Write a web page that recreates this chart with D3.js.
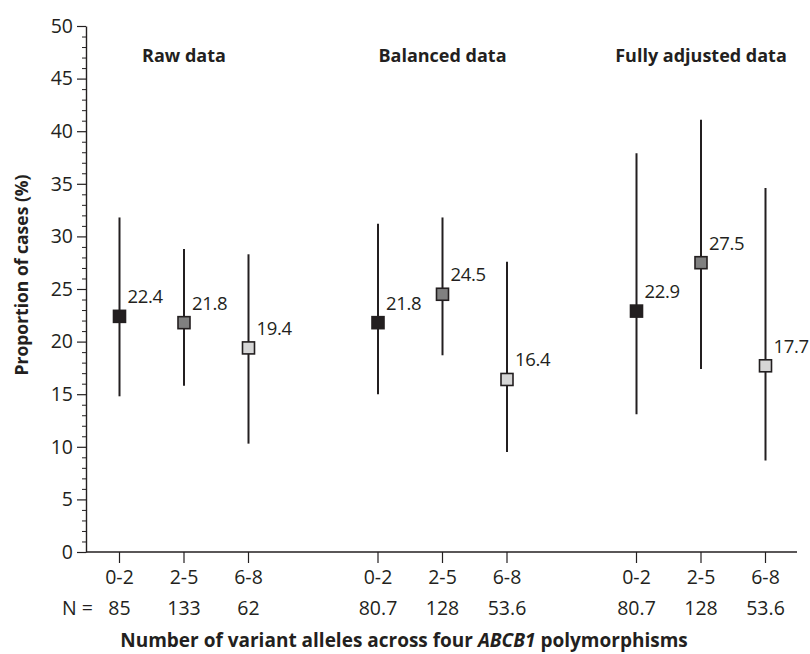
<!DOCTYPE html>
<html>
<head>
<meta charset="utf-8">
<script src="https://cdn.jsdelivr.net/npm/d3@7"></script>
<style>
  body { margin: 0; background: #fff; }
  svg text { font-family: "Open Sans", sans-serif; fill: #231f20; }
</style>
</head>
<body>
<div id="chart-area"></div>
<script>
// Data
const groups = ["Raw data", "Balanced data", "Fully adjusted data"]
const categories = ["0-2", "2-5", "6-8"]
const nValues = [["85", "133", "62"], ["80.7", "128", "53.6"], ["80.7", "128", "53.6"]]
const estimates = [[22.4, 21.8, 19.4], [21.8, 24.5, 16.4], [22.9, 27.5, 17.7]]
const lowerCI = [[14.8, 15.8, 10.3], [15.0, 18.7, 9.5], [13.1, 17.4, 8.7]]
const upperCI = [[31.8, 28.8, 28.3], [31.2, 31.8, 27.6], [37.9, 41.1, 34.6]]
const yTicks = [0, 5, 10, 15, 20, 25, 30, 35, 40, 45, 50]
const markerFill = ["#231f20", "#808080", "#d6d6d6"]

const WIDTH = 810
const HEIGHT = 654
const INK = "#231f20"
const FS = "19.5px"

const svg = d3.select("#chart-area").append("svg")
  .attr("width", WIDTH)
  .attr("height", HEIGHT)

// Scales
const y = d3.scaleLinear()
  .domain([0, 50])
  .range([552, 26])
const xGroup = d3.scalePoint()
  .domain(groups)
  .range([184, 701])
const xInner = d3.scalePoint()
  .domain(categories)
  .range([-64.5, 64.5])

const AXIS_X = 86

// Flatten for drawing
const points = []
groups.forEach((g, gi) => {
  categories.forEach((c, ci) => {
    points.push({
      group: g, cat: c, ci: ci,
      est: estimates[gi][ci], lo: lowerCI[gi][ci], hi: upperCI[gi][ci],
      n: nValues[gi][ci],
      x: xGroup(g) + xInner(c)
    })
  })
})

// Y axis minor ticks
svg.append("g")
  .attr("transform", `translate(${AXIS_X}, 0)`)
  .call(d3.axisLeft(y).tickValues(d3.range(0, 51, 1).filter(v => v % 5 !== 0))
    .tickSize(4).tickSizeOuter(0).tickFormat(""))
  .call(g => g.select(".domain").remove())
  .call(g => g.selectAll("line").attr("stroke", INK).attr("stroke-width", 1))

// Y axis major ticks
const yAxis = svg.append("g")
  .attr("transform", `translate(${AXIS_X}, 0)`)
  .call(d3.axisLeft(y).tickValues(yTicks).tickSize(9).tickSizeOuter(0).tickPadding(4))
yAxis.select(".domain").attr("stroke", INK).attr("stroke-width", 1.4)
yAxis.selectAll("line").attr("stroke", INK).attr("stroke-width", 1.2)
yAxis.selectAll("text")
  .attr("font-size", FS)
  .attr("font-family", "'Open Sans', sans-serif")
  .attr("fill", INK)

// X axis line
svg.append("line")
  .attr("x1", AXIS_X).attr("x2", 797)
  .attr("y1", y(0)).attr("y2", y(0))
  .attr("stroke", INK).attr("stroke-width", 1.4)

// X ticks and labels
svg.selectAll(".x-tick").data(points).enter().append("line")
  .attr("class", "x-tick")
  .attr("x1", d => d.x).attr("x2", d => d.x)
  .attr("y1", y(0)).attr("y2", y(0) + 11)
  .attr("stroke", INK).attr("stroke-width", 1.2)

svg.selectAll(".x-label").data(points).enter().append("text")
  .attr("class", "x-label")
  .attr("x", d => d.x)
  .attr("y", 584)
  .attr("text-anchor", "middle")
  .attr("font-size", FS)
  .text(d => d.cat)

svg.selectAll(".n-label").data(points).enter().append("text")
  .attr("class", "n-label")
  .attr("x", d => d.x)
  .attr("y", 615)
  .attr("text-anchor", "middle")
  .attr("font-size", FS)
  .text(d => d.n)

svg.append("text")
  .attr("x", 93)
  .attr("y", 615)
  .attr("text-anchor", "end")
  .attr("font-size", FS)
  .text("N =")

// Group titles
svg.selectAll(".group-title").data(groups).enter().append("text")
  .attr("class", "group-title")
  .attr("x", d => xGroup(d))
  .attr("y", 62)
  .attr("text-anchor", "middle")
  .attr("font-size", "18px")
  .attr("font-weight", "bold")
  .text(d => d)

// Axis titles
const xTitle = svg.append("text")
  .attr("x", 404)
  .attr("y", 647)
  .attr("text-anchor", "middle")
  .attr("font-size", "19px")
  .attr("font-weight", "bold")
xTitle.append("tspan").text("Number of variant alleles across four ")
xTitle.append("tspan").attr("font-style", "italic").text("ABCB1")
xTitle.append("tspan").text(" polymorphisms")

svg.append("text")
  .attr("transform", "rotate(-90)")
  .attr("x", -275)
  .attr("y", 28)
  .attr("text-anchor", "middle")
  .attr("font-size", "17.5px")
  .attr("font-weight", "bold")
  .text("Proportion of cases (%)")

// Error bars
svg.selectAll(".ci").data(points).enter().append("line")
  .attr("class", "ci")
  .attr("x1", d => d.x).attr("x2", d => d.x)
  .attr("y1", d => y(d.lo)).attr("y2", d => y(d.hi))
  .attr("stroke", INK).attr("stroke-width", 2)

// Markers
const S = 12
svg.selectAll(".marker").data(points).enter().append("rect")
  .attr("class", "marker")
  .attr("x", d => d.x - S / 2)
  .attr("y", d => y(d.est) - S / 2)
  .attr("width", S).attr("height", S)
  .attr("fill", d => markerFill[d.ci])
  .attr("stroke", INK).attr("stroke-width", 1.6)

// Value labels
svg.selectAll(".value").data(points).enter().append("text")
  .attr("class", "value")
  .attr("x", d => d.x + 8)
  .attr("y", d => y(d.est) - 13)
  .attr("font-size", "18.5px")
  .attr("letter-spacing", "-0.3px")
  .text(d => d.est.toFixed(1))
</script>
</body>
</html>
